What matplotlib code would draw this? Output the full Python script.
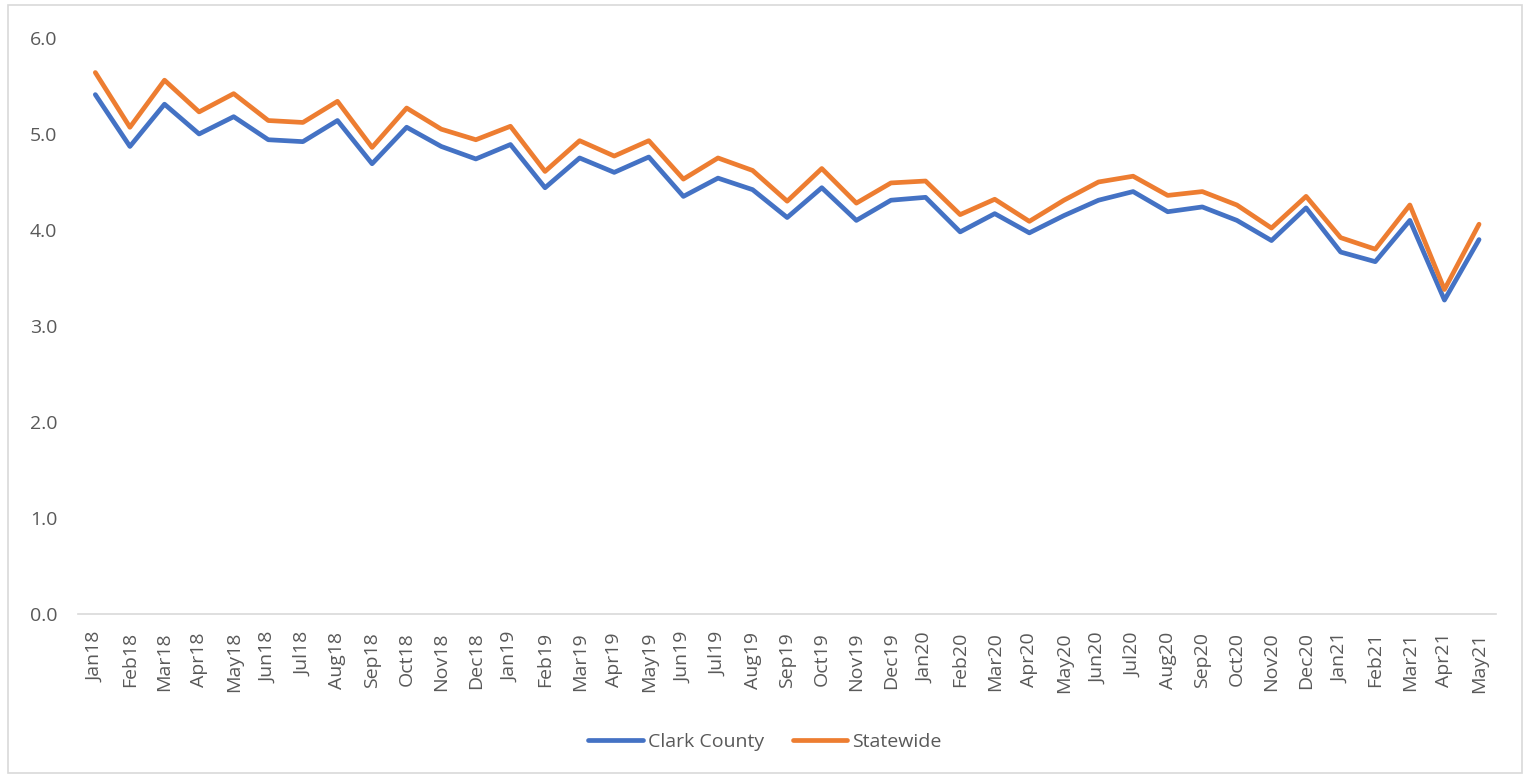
import matplotlib
matplotlib.use("Agg")
import matplotlib.pyplot as plt
import matplotlib.patches as patches

plt.rcParams['font.family'] = ['Open Sans', 'DejaVu Sans']

months = ['Jan18', 'Feb18', 'Mar18', 'Apr18', 'May18', 'Jun18', 'Jul18', 'Aug18', 'Sep18', 'Oct18',
          'Nov18', 'Dec18', 'Jan19', 'Feb19', 'Mar19', 'Apr19', 'May19', 'Jun19', 'Jul19', 'Aug19',
          'Sep19', 'Oct19', 'Nov19', 'Dec19', 'Jan20', 'Feb20', 'Mar20', 'Apr20', 'May20', 'Jun20',
          'Jul20', 'Aug20', 'Sep20', 'Oct20', 'Nov20', 'Dec20', 'Jan21', 'Feb21', 'Mar21', 'Apr21',
          'May21']

clark_county = [5.41, 4.87, 5.31, 5.00, 5.18, 4.94, 4.92, 5.14, 4.69, 5.07,
                4.87, 4.74, 4.89, 4.44, 4.75, 4.60, 4.76, 4.35, 4.54, 4.42,
                4.13, 4.44, 4.10, 4.31, 4.34, 3.98, 4.17, 3.97, 4.15, 4.31,
                4.40, 4.19, 4.24, 4.10, 3.89, 4.23, 3.77, 3.67, 4.10, 3.27,
                3.90]

statewide = [5.64, 5.07, 5.56, 5.23, 5.42, 5.14, 5.12, 5.34, 4.86, 5.27,
             5.05, 4.94, 5.08, 4.61, 4.93, 4.77, 4.93, 4.53, 4.75, 4.62,
             4.30, 4.64, 4.28, 4.49, 4.51, 4.16, 4.32, 4.09, 4.31, 4.50,
             4.56, 4.36, 4.40, 4.26, 4.02, 4.35, 3.92, 3.80, 4.26, 3.38,
             4.06]

text_color = '#595959'

fig = plt.figure(figsize=(15.3, 7.78), dpi=100)
ax = fig.add_axes([0.051, 0.2108, 0.927, 0.7404])

x = range(len(months))
ax.plot(x, clark_county, color='#4472C4', linewidth=3.4, label='Clark County', solid_joinstyle='round', solid_capstyle='round')
ax.plot(x, statewide, color='#ED7D31', linewidth=3.4, label='Statewide', solid_joinstyle='round', solid_capstyle='round')

ax.set_xlim(-0.5, len(months) - 0.5)
ax.set_ylim(0, 6)
ax.set_yticks([0, 1, 2, 3, 4, 5, 6])
ax.set_yticklabels([f"{v:.1f}" for v in range(7)])
ax.set_xticks(list(x))
ax.set_xticklabels(months, rotation=90)
ax.tick_params(axis='both', length=0, colors=text_color)
ax.tick_params(axis='y', labelsize=14, pad=15)
ax.tick_params(axis='x', labelsize=14, pad=13)

for side in ['top', 'right', 'left']:
    ax.spines[side].set_visible(False)
ax.spines['bottom'].set_color('#D9D9D9')
ax.spines['bottom'].set_linewidth(1.2)

# outer chart border
fig.patches.append(patches.Rectangle((0.005, 0.006), 0.99, 0.988, transform=fig.transFigure,
                                     fill=False, edgecolor='#D9D9D9', linewidth=1.2))

fig.legend(loc='center', bbox_to_anchor=(0.5, 0.046), ncol=2, frameon=False,
           fontsize=14, labelcolor=text_color, handlelength=2.8, handletextpad=0.25,
           columnspacing=1.5)

fig.savefig('out.png', dpi=100)
